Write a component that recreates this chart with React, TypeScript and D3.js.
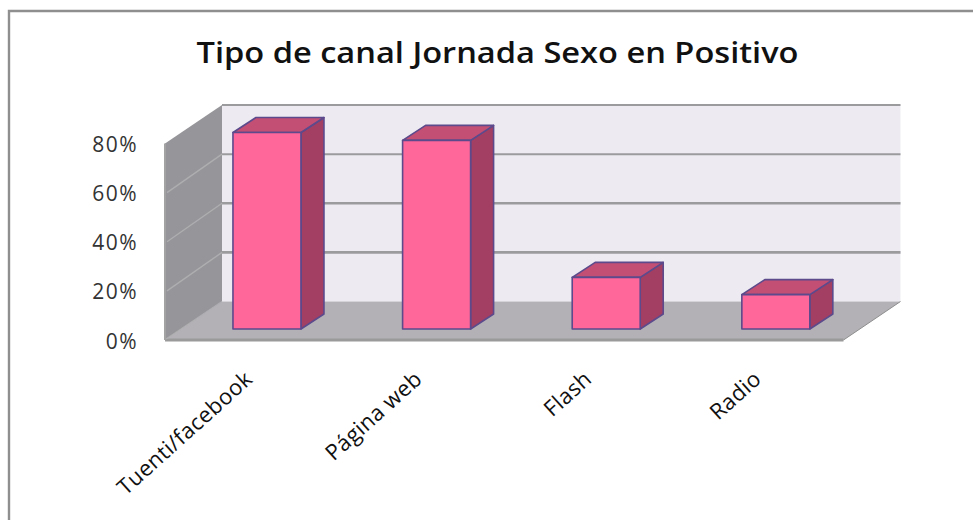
import React from "react";
import * as d3 from "d3";

const title = "Tipo de canal Jornada Sexo en Positivo";
const categories = ["Tuenti/facebook", "Página web", "Flash", "Radio"];
const values = [80, 76.8, 21, 14];
const ticks = [0, 20, 40, 60, 80];

const W = 973, H = 520;
const frontX0 = 165, frontX1 = 843.5, frontY0 = 340, frontY1 = 143.5;
const depthX = 57, depthY = 38.5;
const barDepthX = 23, barDepthY = 15, barShiftX = 17, barShiftY = 11;

const x = d3.scaleBand<string>().domain(categories).range([frontX0, frontX1]).paddingInner(0.6).paddingOuter(0.3);
const y = d3.scaleLinear().domain([0, 80]).range([frontY0, frontY1]);
const poly = d3.line<[number, number]>();
const pct = (t: number) => `${t}%`;
const sans = "'Open Sans', 'Noto Sans', sans-serif";

export default function App() {
  const floorBack = y(0) - depthY;
  return (
    <svg width={W} height={H} style={{ position: "absolute", left: 0, top: 0, background: "#fff" }}>
      <path d={`M9 520V11H973`} fill="none" stroke="#8f8f8f" strokeWidth={2.4} />
      <text x={497.5} y={63} textAnchor="middle" fontFamily={sans} fontWeight={600} fontSize={28} fill="#111" textLength={602} lengthAdjust="spacingAndGlyphs">{title}</text>

      {/* back wall */}
      <rect x={frontX0 + depthX} y={y(80) - depthY} width={frontX1 - frontX0} height={y(0) - y(80)} fill="#edebf1" />
      {/* left wall */}
      <path d={poly([[frontX0, y(0)], [frontX0, y(80)], [frontX0 + depthX, y(80) - depthY], [frontX0 + depthX, floorBack]]) + "Z"} fill="#969599" />
      {/* floor */}
      <path d={poly([[frontX0, y(0)], [frontX1, y(0)], [frontX1 + depthX, floorBack], [frontX0 + depthX, floorBack]]) + "Z"} fill="#b3b1b6" />
      <path d={poly([[frontX1, y(0)], [frontX1 + depthX, floorBack]])!} stroke="#8e8e8e" strokeWidth={1} fill="none" />
      <path d={poly([[frontX0, y(0)], [frontX1, y(0)]])!} stroke="#9a9a9a" strokeWidth={3} fill="none" />
      <path d={poly([[frontX0, y(0)], [frontX0, y(80)]])!} stroke="#a3a3a3" strokeWidth={2} fill="none" />

      {/* gridlines */}
      {ticks.slice(1).map((t) => (
        <g key={t}>
          <line x1={frontX0 + depthX} x2={frontX1 + depthX} y1={y(t) - depthY} y2={y(t) - depthY} stroke="#9b9a9d" strokeWidth={t === 60 ? 2 : t === 80 ? 2 : 2.6} />
          {t < 80 && <line x1={frontX0 + 2} x2={frontX0 + depthX} y1={y(t)} y2={y(t) - depthY} stroke="#aeadb0" strokeWidth={1.4} />}
        </g>
      ))}
      <line x1={frontX0 + 1} x2={frontX0 + depthX} y1={y(0) - 1} y2={floorBack} stroke="#aeadb0" strokeWidth={1.2} />

      {/* bars */}
      {categories.map((c, i) => {
        const x0 = x(c)! + barShiftX - (x.bandwidth() - 68) / 2;
        const x1 = x0 + 68;
        const yB = y(0) - barShiftY;
        const yT = yB - (y(0) - y(values[i]));
        const edge = { stroke: "#5c4a8c", strokeWidth: 1.6, strokeLinejoin: "round" as const };
        return (
          <g key={c}>
            <path d={poly([[x1, yT], [x1 + barDepthX, yT - barDepthY], [x1 + barDepthX, yB - barDepthY], [x1, yB]]) + "Z"} fill="#a23f63" {...edge} />
            <path d={poly([[x0, yT], [x0 + barDepthX, yT - barDepthY], [x1 + barDepthX, yT - barDepthY], [x1, yT]]) + "Z"} fill="#c34f74" {...edge} />
            <rect x={x0} y={yT} width={68} height={yB - yT} fill="#ff6699" {...edge} />
          </g>
        );
      })}

      {/* y labels */}
      {ticks.map((t) => (
        <text key={t} x={138} y={y(t) + 8.5} textAnchor="end" fontFamily={sans} fontSize={21} letterSpacing={1.5} fill="#333">{pct(t)}</text>
      ))}

      {/* x labels */}
      {categories.map((c) => {
        const px = x(c)! + x.bandwidth() / 2 + 4;
        const py = 381;
        return (
          <text key={c} transform={`translate(${px},${py}) rotate(-42)`} textAnchor="end" fontFamily={sans} fontSize={22} letterSpacing={0.35} fill="#111">{c}</text>
        );
      })}
    </svg>
  );
}
